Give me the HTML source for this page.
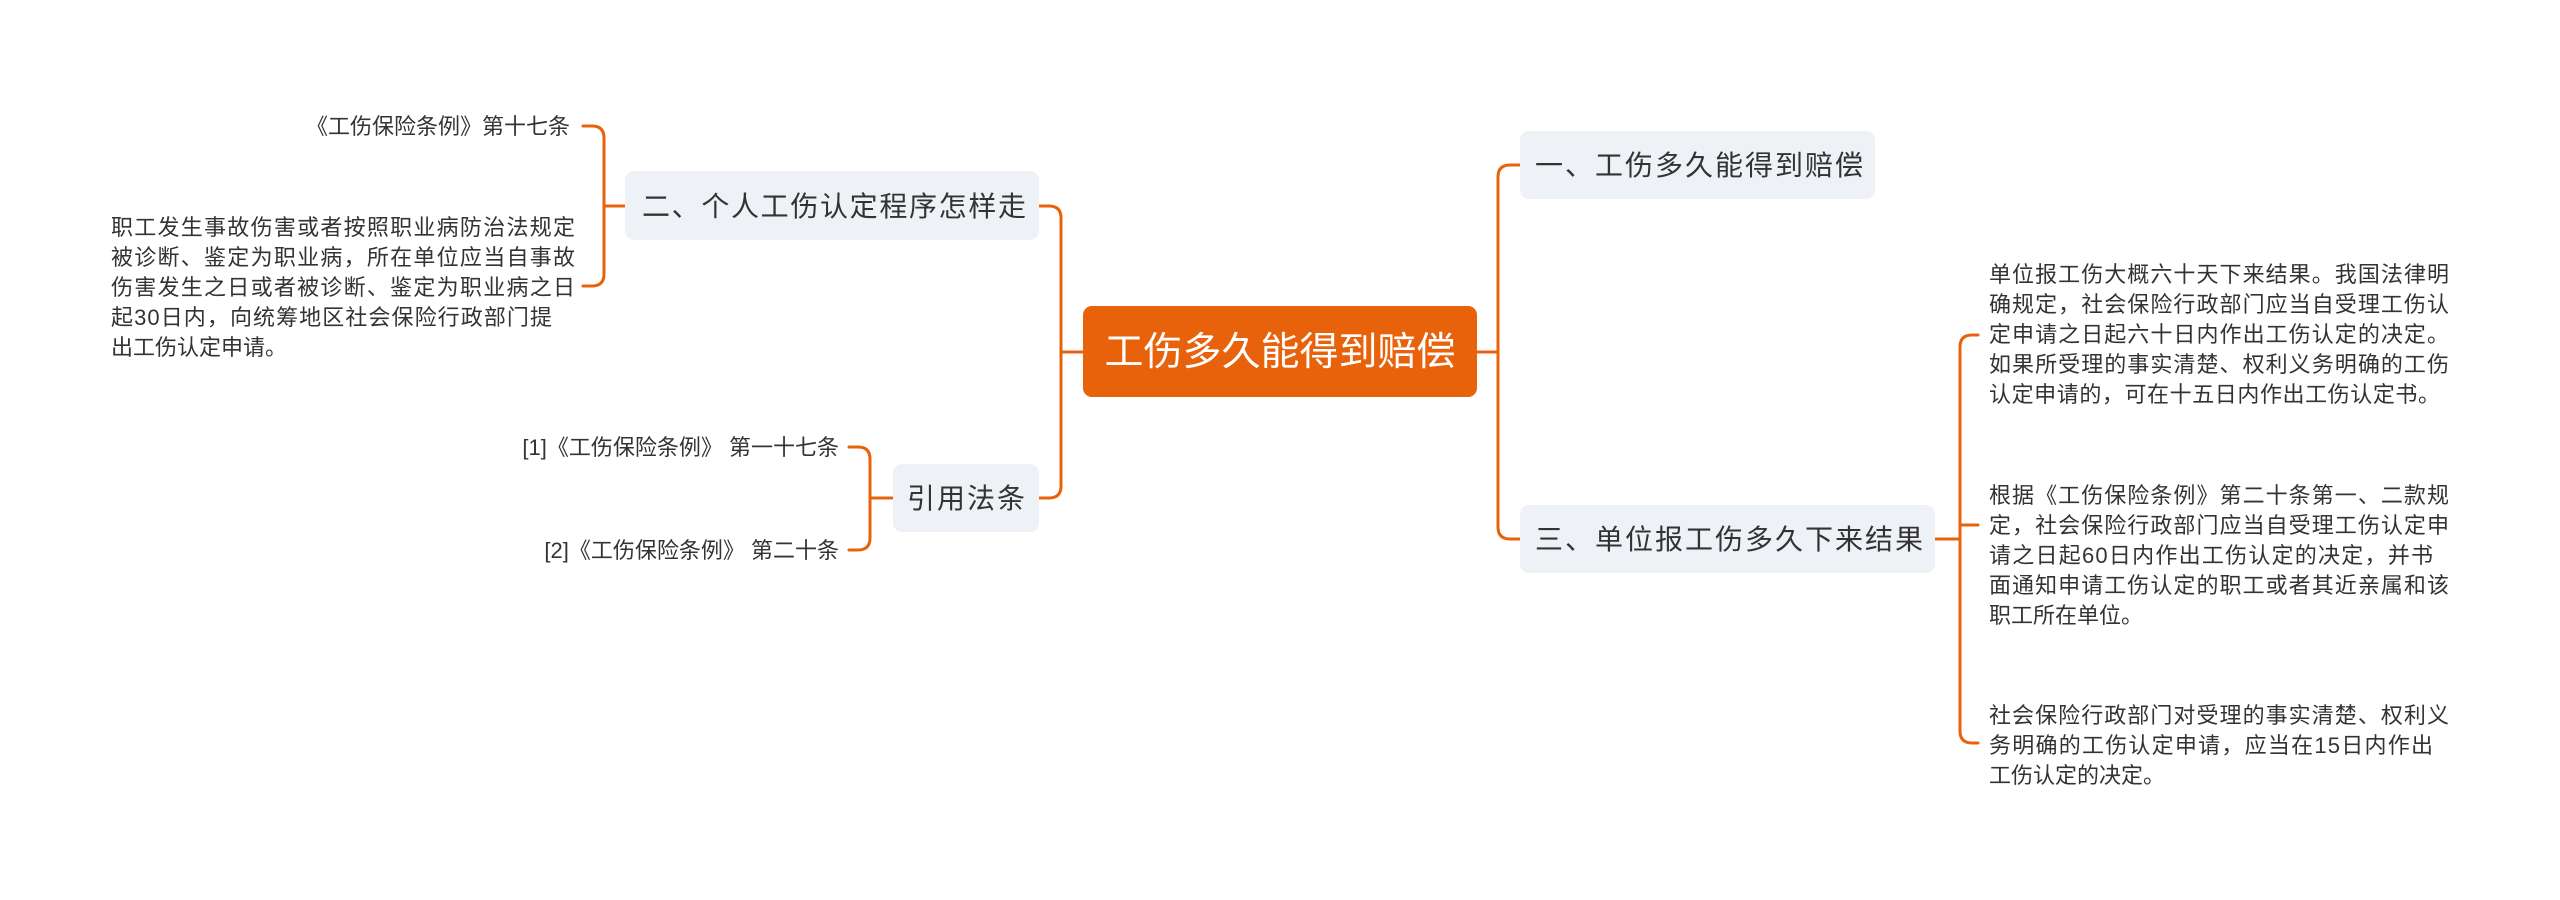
<!DOCTYPE html>
<html><head><meta charset="utf-8"><style>
html,body{margin:0;padding:0;background:#fff;}
svg{display:block;}
text{font-family:"Liberation Sans","Noto Sans CJK SC",sans-serif;fill:#333;}
</style></head><body>
<svg width="2560" height="900" viewBox="0 0 2560 900" xmlns="http://www.w3.org/2000/svg">
<g fill="none" stroke="#e8620c" stroke-width="3" stroke-linecap="round">
<path d="M1477 352 H1498 V177 Q1498 165 1510 165 H1520"/>
<path d="M1498 352 V527 Q1498 539 1510 539 H1520"/>
<path d="M1083 352 H1061 V218 Q1061 206 1049 206 H1039"/>
<path d="M1061 352 V486 Q1061 498 1049 498 H1039"/>
<path d="M1935 539 H1960 V347 Q1960 335 1972 335 H1978"/>
<path d="M1960 539 V731 Q1960 743 1972 743 H1978"/>
<path d="M1960 525 H1978"/>
<path d="M625 206 H604 V138 Q604 126 592 126 H583"/>
<path d="M604 206 V274 Q604 286 592 286 H583"/>
<path d="M893 498 H870 V459 Q870 447 858 447 H849"/>
<path d="M870 498 V538 Q870 550 858 550 H849"/>
</g>
<rect x="1083" y="306" width="394" height="91" rx="9" fill="#e8620c"/>
<text x="1280" y="365" font-size="39" text-anchor="middle" style="fill:#fff">工伤多久能得到赔偿</text>

<rect x="1520" y="131" width="355" height="68" rx="9" fill="#eef1f5"/>
<text x="1535" y="175" font-size="28" textLength="328">一、工伤多久能得到赔偿</text>
<rect x="1520" y="505" width="415" height="68" rx="9" fill="#eef1f5"/>
<text x="1535" y="549" font-size="28" textLength="388">三、单位报工伤多久下来结果</text>
<rect x="625" y="171" width="414" height="69" rx="9" fill="#eef1f5"/>
<text x="642" y="216" font-size="28" textLength="384">二、个人工伤认定程序怎样走</text>
<rect x="893" y="464" width="146" height="68" rx="9" fill="#eef1f5"/>
<text x="907" y="508" font-size="28" textLength="118">引用法条</text>

<g font-size="22">
<text x="570" y="134" text-anchor="end">《工伤保险条例》第十七条</text>
<text x="111" y="235" textLength="464">职工发生事故伤害或者按照职业病防治法规定</text>
<text x="111" y="265" textLength="464">被诊断、鉴定为职业病，所在单位应当自事故</text>
<text x="111" y="295" textLength="464">伤害发生之日或者被诊断、鉴定为职业病之日</text>
<text x="111" y="325" textLength="441">起30日内，向统筹地区社会保险行政部门提</text>
<text x="111" y="355">出工伤认定申请。</text>
<text x="839" y="455" text-anchor="end">[1]《工伤保险条例》 第一十七条</text>
<text x="839" y="558" text-anchor="end">[2]《工伤保险条例》 第二十条</text>

<text x="1989" y="282" textLength="460">单位报工伤大概六十天下来结果。我国法律明</text>
<text x="1989" y="312" textLength="460">确规定，社会保险行政部门应当自受理工伤认</text>
<text x="1989" y="342" textLength="460">定申请之日起六十日内作出工伤认定的决定。</text>
<text x="1989" y="372" textLength="460">如果所受理的事实清楚、权利义务明确的工伤</text>
<text x="1989" y="402" textLength="451">认定申请的，可在十五日内作出工伤认定书。</text>

<text x="1989" y="503" textLength="460">根据《工伤保险条例》第二十条第一、二款规</text>
<text x="1989" y="533" textLength="460">定，社会保险行政部门应当自受理工伤认定申</text>
<text x="1989" y="563" textLength="444">请之日起60日内作出工伤认定的决定，并书</text>
<text x="1989" y="593" textLength="460">面通知申请工伤认定的职工或者其近亲属和该</text>
<text x="1989" y="623">职工所在单位。</text>

<text x="1989" y="723" textLength="460">社会保险行政部门对受理的事实清楚、权利义</text>
<text x="1989" y="753" textLength="444">务明确的工伤认定申请，应当在15日内作出</text>
<text x="1989" y="783">工伤认定的决定。</text>
</g>
</svg>
</body></html>
